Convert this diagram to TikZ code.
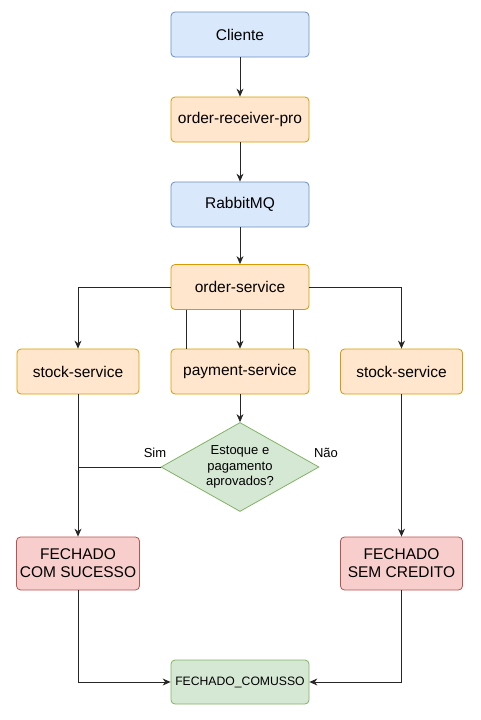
\documentclass[tikz,border=0pt]{standalone}
\usepackage{fontspec}
\setmainfont{Liberation Sans}
\usetikzlibrary{positioning}
\usetikzlibrary{shapes.geometric}
\usetikzlibrary{arrows.meta}

\definecolor{bluefill}{HTML}{DAE8FC}
\definecolor{bluedraw}{HTML}{6C8EBF}
\definecolor{orangefill}{HTML}{FFE6CC}
\definecolor{orangedraw}{HTML}{D79B00}
\definecolor{greenfill}{HTML}{D5E8D4}
\definecolor{greendraw}{HTML}{82B366}
\definecolor{redfill}{HTML}{F8CECC}
\definecolor{reddraw}{HTML}{B85450}

\begin{document}
\begin{tikzpicture}[x=1pt,y=-1pt,
box/.style={rectangle,rounded corners=4pt,draw,line width=0.8pt,minimum width=138pt,minimum height=45pt,align=center,font=\fontsize{15.5}{18}\selectfont},
bluebox/.style={box,fill=bluefill,draw=bluedraw},
orangebox/.style={box,fill=orangefill,draw=orangedraw},
greenbox/.style={box,fill=greenfill,draw=greendraw},
redbox/.style={box,fill=redfill,draw=reddraw,minimum width=122pt,minimum height=53pt},
decision/.style={diamond,draw=greendraw,fill=greenfill,line width=0.8pt,inner sep=0pt,aspect=1.78,minimum width=158pt,minimum height=89pt,align=center,font=\fontsize{13}{15.5}\selectfont},
arrow/.style={-{Stealth[length=8pt,width=7pt]}},
line/.style={draw=black!85,line width=0.8pt}]
\useasboundingbox (0,0) rectangle (480,720);

\node[bluebox] (cliente) at (240,34.5) {Cliente};
\node[orangebox] (receiver) at (240,119.5) {order-receiver-pro};
\node[bluebox] (rabbit) at (240,204.5) {RabbitMQ};
\node[orangebox] (order) at (240,287) {order-service};

\node[orangebox] (payment) at (240,371.5) {payment-service};
\node[orangebox,minimum width=122pt] (stockl) at (78,371.5) {stock-service};
\node[orangebox,minimum width=122pt] (stockr) at (401.5,371.5) {stock-service};

\node[decision] (check) at (240,467) {Estoque e\\pagamento\\aprovados?};
\node[font=\fontsize{13}{15.5}\selectfont] (sim) at (155,453) {Sim};
\node[font=\fontsize{13}{15.5}\selectfont] (nao) at (326,453) {Não};

\node[redbox] (sucesso) at (78,563.5) {FECHADO\\COM SUCESSO};
\node[redbox] (semcredito) at (401.5,563.5) {FECHADO\\SEM CREDITO};
\node[greenbox,minimum height=44pt,font=\fontsize{12.2}{14}\selectfont] (fechado) at (240,682) {FECHADO\_COMUSSO};

\draw[line,arrow] (cliente) -- (receiver);
\draw[line,arrow] (receiver) -- (rabbit);
\draw[line,arrow] (rabbit) -- (order);
\draw[line,arrow] (order.west) -| (stockl);
\draw[line,arrow] (order.east) -| (stockr);
\draw[line,arrow] (order) -- (payment);
\draw[line] ([xshift=-54pt]order.south) -- ([xshift=-54pt]payment.north);
\draw[line] ([xshift=53pt]order.south) -- ([xshift=53pt]payment.north);
\draw[line,arrow] (payment) -- (check);
\draw[line] (check.west) -- (check.west -| stockl);
\draw[line,arrow] (stockl) -- (sucesso);
\draw[line,arrow] (stockr) -- (semcredito);
\draw[line,arrow] (sucesso) |- (fechado);
\draw[line,arrow] (semcredito) |- (fechado);
\end{tikzpicture}
\end{document}
